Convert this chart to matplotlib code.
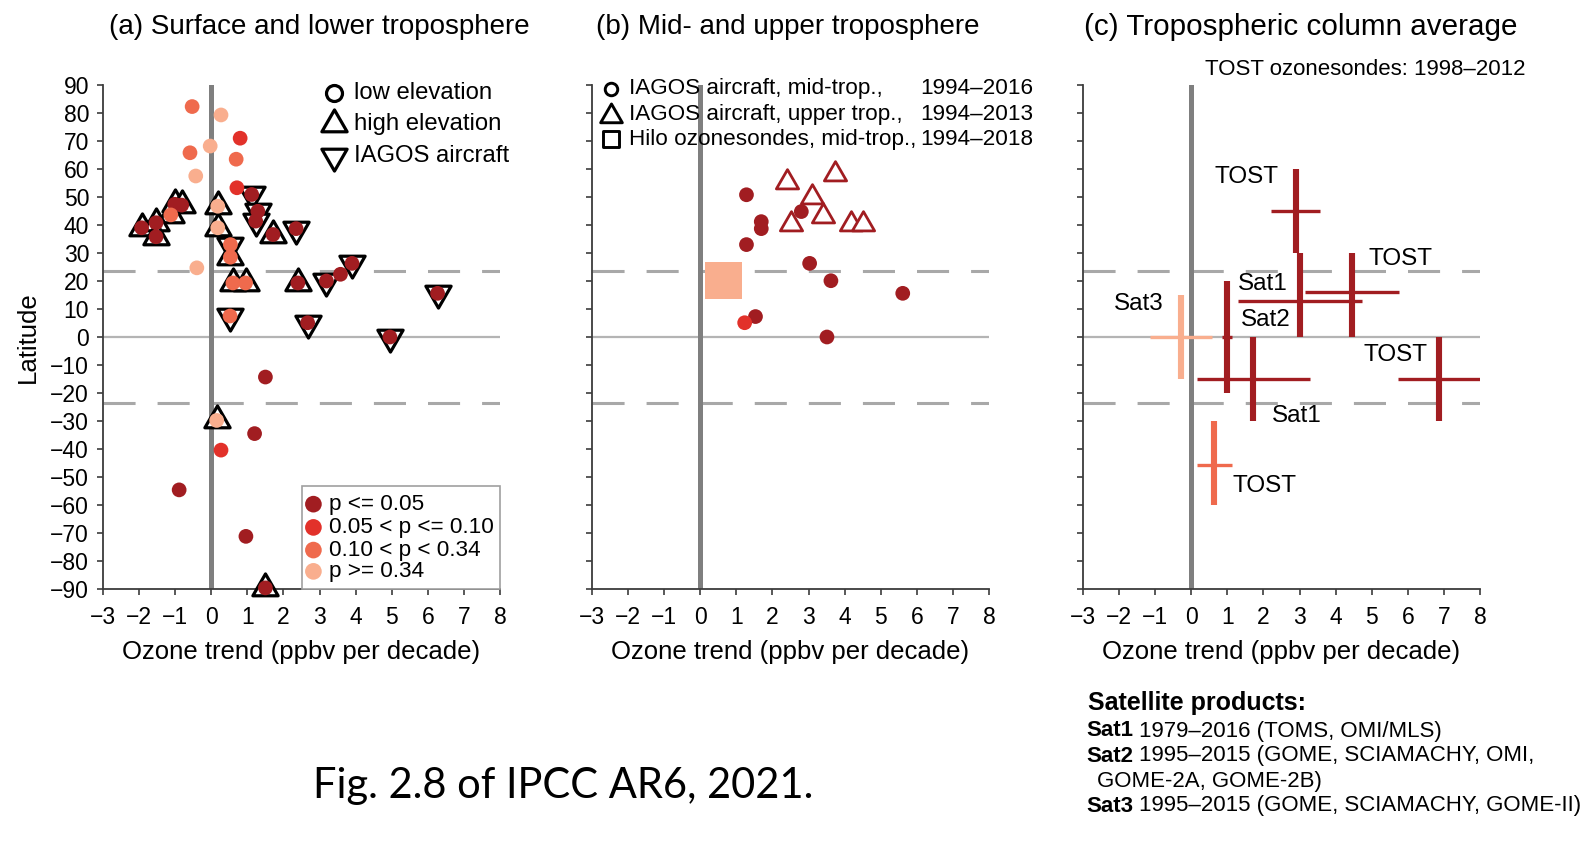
import matplotlib
matplotlib.use('Agg')
import matplotlib.pyplot as plt
from matplotlib.path import Path
from matplotlib.patches import Rectangle

plt.rcParams['font.family'] = ['Liberation Sans', 'DejaVu Sans']
plt.rcParams['axes.unicode_minus'] = True

W, H = 1596, 849

# ---------------- data ----------------
P_LABELS = ['p <= 0.05', '0.05 < p <= 0.10', '0.10 < p < 0.34', 'p >= 0.34']
P_COLORS = ['#a11d21', '#e2312a', '#ef6a4d', '#f9ae8e']

# Panel (a): surface and lower troposphere
A_X = [0.27, -0.03, -0.43, -0.40, 0.18, 0.18, 0.15,
       -0.53, -0.59, 0.69, -1.12, 0.53, 0.53, 0.60, 0.95, 0.52,
       0.80, 0.71, 0.27,
       -1.93, -1.53, -1.53, -1.01, -0.82, 1.12, 1.29, 1.23, 1.71, 2.35, 2.40,
       3.19, 3.58, 3.90, 2.67, 4.95, 6.27, 1.50, 1.20, -0.89, 0.96, 1.50]
A_LAT = [79.3, 68.2, 57.5, 24.7, 46.7, 39.0, -29.8,
         82.3, 65.8, 63.5, 43.6, 33.0, 28.5, 19.3, 19.3, 7.5,
         71.0, 53.3, -40.4,
         39.0, 40.8, 35.8, 47.4, 47.1, 50.9, 44.9, 41.4, 36.6, 38.7, 19.3,
         20.0, 22.4, 26.3, 5.1, 0.0, 15.6, -14.3, -34.5, -54.6, -71.2, -89.6]
A_P = [3] * 7 + [2] * 9 + [1] * 3 + [0] * 22
A_SITE = ['low', 'low', 'low', 'low', 'high', 'high', 'high',
          'low', 'low', 'low', 'high', 'iagos', 'high', 'high', 'high', 'iagos',
          'low', 'low', 'low',
          'high', 'high', 'high', 'high', 'high', 'iagos', 'iagos', 'iagos', 'high', 'iagos', 'high',
          'iagos', 'low', 'iagos', 'iagos', 'iagos', 'iagos', 'low', 'low', 'low', 'low', 'high']
SITE_LABELS = ['low elevation', 'high elevation', 'IAGOS aircraft']

# Panel (b): mid- and upper troposphere
B_DOT_X = [1.28, 1.69, 1.69, 1.28, 2.80, 3.03, 3.62, 5.61, 1.53, 3.51, 1.23]
B_DOT_LAT = [50.8, 41.2, 38.7, 33.0, 44.8, 26.3, 20.1, 15.6, 7.3, 0.0, 5.1]
B_DOT_P = [0] * 10 + [1]
B_TRI_X = [2.39, 3.74, 3.09, 3.39, 2.51, 4.19, 4.50]
B_TRI_LAT = [55.3, 58.3, 49.9, 43.1, 40.4, 40.5, 40.5]
B_SQ_X = [0.64]
B_SQ_LAT = [20.1]
B_SQ_P = [3]
B_LEG_LABELS = ['IAGOS aircraft, mid-trop.,', 'IAGOS aircraft, upper trop.,',
                'Hilo ozonesondes, mid-trop.,']
B_LEG_YEARS = ['1994\u20132016', '1994\u20132013', '1994\u20132018']

# Panel (c): tropospheric column average
C_NAME = ['TOST', 'Sat1', 'TOST', 'Sat2', 'Sat3', 'Sat1', 'TOST', 'TOST']
C_X = [2.90, 3.02, 4.46, 1.00, -0.29, 1.72, 6.86, 0.64]
C_XERR = [0.68, 1.72, 1.30, 0.14, 0.86, 1.57, 1.14, 0.48]
C_LAT = [45.0, 13.0, 15.9, 0.0, 0.0, -15.1, -15.1, -45.6]
C_LAT_LO = [30, 0, 0, -20, -15, -30, -30, -60]
C_LAT_HI = [60, 30, 30, 20, 15, 0, 0, -30]
C_P = [0, 0, 0, 0, 3, 0, 0, 2]
C_LABELS = ['TOST', 'TOST', 'Sat1', 'Sat2', 'Sat3', 'TOST', 'Sat1', 'TOST']
C_LABEL_X = [1.52, 5.79, 1.99, 2.06, -1.46, 5.65, 2.93, 2.03]
C_LABEL_LAT = [57.0, 28.0, 18.9, 6.1, 11.8, -6.6, -28.1, -53.2]

SAT_LINES = [('Sat1', '1979\u20132016 (TOMS, OMI/MLS)'),
             ('Sat2', '1995\u20132015 (GOME, SCIAMACHY, OMI,'),
             ('', 'GOME-2A, GOME-2B)'),
             ('Sat3', '1995\u20132015 (GOME, SCIAMACHY, GOME-II)')]

TITLES = ['(a) Surface and lower troposphere', '(b) Mid- and upper troposphere',
          '(c) Tropospheric column average']

# ---------------- helpers ----------------
def tri(up=True):
    s = 1 if up else -1
    return Path([(0, s * 1.0), (-0.866, -s * 0.5), (0.866, -s * 0.5), (0, s * 1.0)],
                [Path.MOVETO, Path.LINETO, Path.LINETO, Path.CLOSEPOLY])

TRI_UP = tri(True)
TRI_DN = tri(False)


def fx(px):
    return px / W


def fy(py):
    return 1 - py / H


fig = plt.figure(figsize=(W / 100, H / 100), dpi=100)

ax_bottom = fy(589)
ax_height = (589 - 85) / H
ax_width = 397 / W
lefts = [103, 592, 1083]
axes = [fig.add_axes([fx(l), ax_bottom, ax_width, ax_height]) for l in lefts]

TITLE_X = [319, 788, 1301]
TITLE_SIZE = [20, 20, 21.3]

for i, ax in enumerate(axes):
    ax.set_xlim(-3, 8)
    ax.set_ylim(-90, 90)
    ax.set_xticks(range(-3, 9))
    ax.set_yticks(range(-90, 91, 10))
    for s in ['top', 'right']:
        ax.spines[s].set_visible(False)
    for s in ['left', 'bottom']:
        ax.spines[s].set_color('#3c3c3c')
        ax.spines[s].set_linewidth(1.3)
    ax.tick_params(direction='out', length=4, width=1.2, color='#3c3c3c',
                   labelsize=16.5)
    ax.tick_params(axis='x', pad=8)
    ax.tick_params(axis='y', pad=6)
    if i > 0:
        ax.tick_params(axis='y', labelleft=False)
    ax.axhline(0, color='#b4b4b4', lw=1.6, zorder=1)
    for y in (23.5, -23.5):
        ax.axhline(y, color='#a8a8a8', lw=2.2, ls=(0, (10.5, 7.2)), zorder=1)
    ax.axvline(0, color='#7f7f7f', lw=3.6, zorder=2)
    ax.set_xlabel('Ozone trend (ppbv per decade)', fontsize=18.5, labelpad=8)
    fig.text(fx(TITLE_X[i]), fy(27), TITLES[i], fontsize=TITLE_SIZE[i],
             ha='center', va='center')

# ---------------- panel a ----------------
ax = axes[0]
ax.set_ylabel('Latitude', fontsize=18.5)
ax.yaxis.set_label_coords((27.5 - 103) / 397, 0.5)
ax.yaxis.label.set_verticalalignment('center')

TRI_MS = 21
DOT_S = 10.6 ** 2
for kind, mk in (('high', TRI_UP), ('iagos', TRI_DN)):
    xs = [x for x, s in zip(A_X, A_SITE) if s == kind]
    ys = [y for y, s in zip(A_LAT, A_SITE) if s == kind]
    ax.scatter(xs, ys, s=TRI_MS ** 2, marker=mk, facecolors='white',
               edgecolors='black', linewidths=2.3, zorder=3, clip_on=False)
for p in range(4):
    xs = [x for x, q in zip(A_X, A_P) if q == p]
    ys = [y for y, q in zip(A_LAT, A_P) if q == p]
    ax.scatter(xs, ys, s=DOT_S, color=P_COLORS[p], edgecolors='none', zorder=4,
               clip_on=False)

# site-type legend
for j, (lab, mk) in enumerate(zip(SITE_LABELS, ['o', TRI_UP, TRI_DN])):
    yy = [87.0, 76.0, 64.6][j]
    if mk == 'o':
        ax.scatter([3.40], [yy], s=11.5 ** 2, marker='o', facecolors='white',
                   edgecolors='black', linewidths=2.3, zorder=5, clip_on=False)
    else:
        ax.scatter([3.40], [yy], s=TRI_MS ** 2, marker=mk, facecolors='white',
                   edgecolors='black', linewidths=2.3, zorder=5, clip_on=False)
    ax.text(3.96, yy, lab, fontsize=17.2, ha='left', va='center', zorder=5)

# p-value legend
ax.add_patch(Rectangle((2.5, -90), 5.5, 36.8, facecolor='white',
                       edgecolor='#a0a0a0', lw=1.2, zorder=4, clip_on=False))
for j, lab in enumerate(P_LABELS):
    yy = [-59.7, -68.0, -76.1, -83.7][j]
    ax.scatter([2.83], [yy], s=12 ** 2, color=P_COLORS[j], edgecolors='none', zorder=5)
    ax.text(3.26, yy, lab, fontsize=16.2, ha='left', va='center', zorder=5)

# ---------------- panel b ----------------
ax = axes[1]
ax.scatter(B_SQ_X, B_SQ_LAT, s=26.6 ** 2, marker='s',
           color=[P_COLORS[p] for p in B_SQ_P], edgecolors='none', zorder=3)
ax.scatter(B_TRI_X, B_TRI_LAT, s=18.5 ** 2, marker=TRI_UP, facecolors='white',
           edgecolors=P_COLORS[0], linewidths=2.0, zorder=3)
for p in (0, 1):
    xs = [x for x, q in zip(B_DOT_X, B_DOT_P) if q == p]
    ys = [y for y, q in zip(B_DOT_LAT, B_DOT_P) if q == p]
    ax.scatter(xs, ys, s=DOT_S, color=P_COLORS[p], edgecolors='none', zorder=4)

for j, (lab, yr) in enumerate(zip(B_LEG_LABELS, B_LEG_YEARS)):
    yy = [88.6, 79.5, 70.6][j]
    if j == 0:
        ax.scatter([-2.47], [yy], s=9.0 ** 2, marker='o', facecolors='white',
                   edgecolors='black', linewidths=2.1, zorder=5, clip_on=False)
    elif j == 1:
        ax.scatter([-2.47], [yy - 0.5], s=18 ** 2, marker=TRI_UP, facecolors='white',
                   edgecolors='black', linewidths=2.1, zorder=5, clip_on=False)
    else:
        ax.scatter([-2.47], [yy], s=12.0 ** 2, marker='s', facecolors='white',
                   edgecolors='black', linewidths=2.1, zorder=5, clip_on=False)
    ax.text(-1.98, yy, lab, fontsize=16.2, ha='left', va='center', clip_on=False)
    ax.text(9.22, yy, yr, fontsize=16.2, ha='right', va='center', clip_on=False)

# ---------------- panel c ----------------
ax = axes[2]
for name, x, xe, lat, lo, hi, p in zip(C_NAME, C_X, C_XERR, C_LAT, C_LAT_LO,
                                        C_LAT_HI, C_P):
    col = P_COLORS[p]
    ax.vlines(x, lo, hi, color=col, lw=4.4, zorder=3, capstyle='butt')
    ax.hlines(lat, x - xe, x + xe, color=col, lw=2.4, zorder=3, capstyle='butt')
for lab, x, y in zip(C_LABELS, C_LABEL_X, C_LABEL_LAT):
    ax.text(x, y, lab, fontsize=17.5, ha='center', va='center', zorder=5)
ax.text(4.82, 95.7, 'TOST ozonesondes: 1998\u20132012', fontsize=16,
        ha='center', va='center', clip_on=False)

# ---------------- footer texts ----------------
fig.text(fx(563.5), fy(786), 'Fig. 2.8 of IPCC AR6, 2021.', fontsize=30,
         family=['Lato', 'DejaVu Sans'], ha='center', va='center')

fig.text(fx(1088), fy(703), 'Satellite products:', fontsize=18, weight='bold',
         ha='left', va='center')
fig.canvas.draw()
renderer = fig.canvas.get_renderer()
line_y = [731, 756, 781, 806]
for (b, r), yy in zip(SAT_LINES, line_y):
    if b:
        t = fig.text(fx(1086), fy(yy), b, fontsize=16, weight='bold',
                     ha='left', va='center')
        ext = t.get_window_extent(renderer=renderer)
        x1 = ext.x1 + 6
    else:
        x1 = 1097
    fig.text(fx(x1), fy(yy), r, fontsize=16, ha='left', va='center')

fig.savefig('out.png', dpi=100)
